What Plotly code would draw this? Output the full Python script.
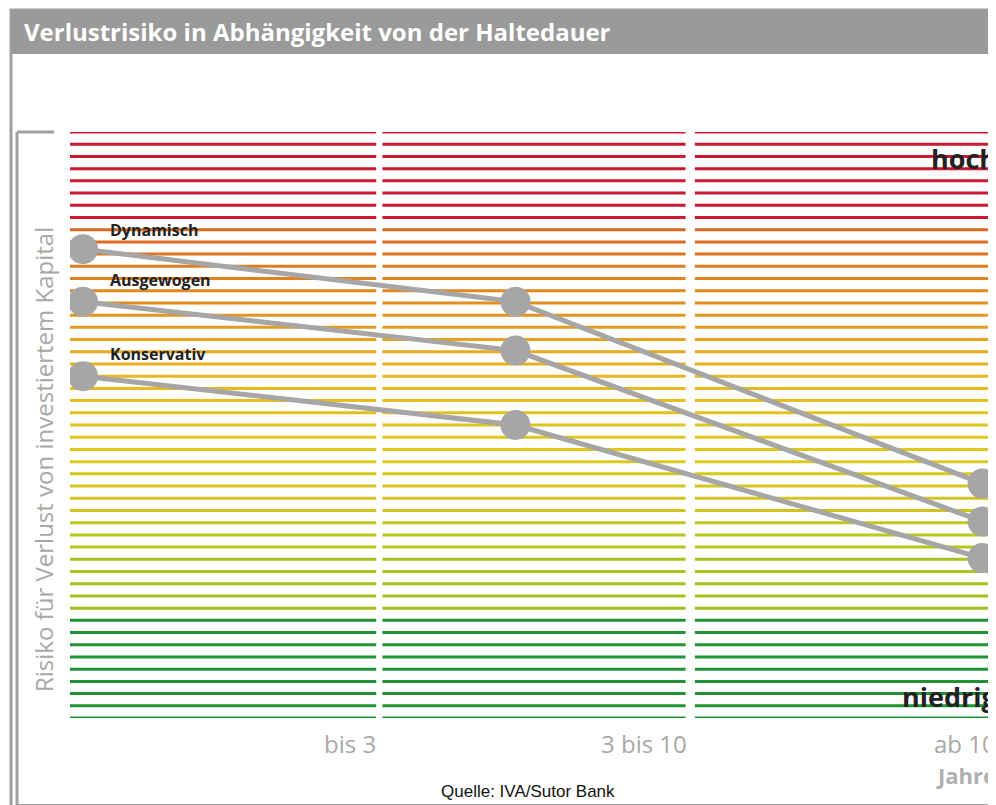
import plotly.graph_objects as go

# data
categories = ["bis 3", "3 bis 10", "ab 10"]
x_pos = [0.042, 1.44, 2.95]
series = {
    "Dynamisch": [38.4, 34.1, 19.2],
    "Ausgewogen": [34.1, 30.1, 16.1],
    "Konservativ": [28.0, 24.0, 13.1],
}
band_colors = (["#1f9435"] * 9 +
               ["#a2c01e", "#a6c21e", "#a8c31e", "#abc41e", "#aec41e", "#b4c51e", "#bcc61e", "#c4c61e", "#cdc41e"] +
               ["#d2c61e", "#d6c71e", "#d9c81e", "#dcc81e", "#dec81e", "#e0c71e", "#e2c41e", "#e4c21e",
                "#e6bf1e", "#e7bb1e", "#e8b61e", "#e8b01e", "#e8a91e", "#e8a21e", "#e79c1e"] +
               ["#e5941e", "#e48e1e", "#e3881e", "#e2821e", "#e07c1e", "#de751e", "#dc6e1e", "#da681e"] +
               ["#cc1830"] * 8)

W, H = 996, 805
ML, MR, MT, MB = 62, 6, 124, 95
ph = H - MT - MB

def py(px):
    return (H - MB - px) / ph

def pxx(px):
    return (px - ML) / (W - ML - MR)

fig = go.Figure()
segs = [(0, 0.99), (1.01, 1.99), (2.02, 3.0)]
for i, c in enumerate(band_colors):
    xs, ys = [], []
    for a, b in segs:
        xs += [a, b, None]
        ys += [i, i, None]
    fig.add_trace(go.Scatter(x=xs, y=ys, mode="lines", line=dict(color=c, width=3),
                             hoverinfo="skip", showlegend=False))

for name, vals in series.items():
    fig.add_trace(go.Scatter(x=x_pos, y=vals, mode="lines+markers", name=name,
                             line=dict(color="#a6a6a6", width=5),
                             marker=dict(color="#a6a6a6", size=30), showlegend=False))

ann = []
lab_px = {"Dynamisch": 222, "Ausgewogen": 272, "Konservativ": 346}
for name, p in lab_px.items():
    ann.append(dict(x=pxx(100), y=py(p), xref="paper", yref="paper", text="<b>" + name + "</b>",
                    showarrow=False, xanchor="left", yanchor="middle",
                    font=dict(family="Open Sans", size=16, color="#222")))
ann.append(dict(x=pxx(991), y=py(150), xref="paper", yref="paper", text="<b>hoch</b>", showarrow=False,
                xanchor="right", yanchor="middle", font=dict(family="Open Sans", size=27, color="#222")))
ann.append(dict(x=pxx(991), y=py(688), xref="paper", yref="paper", text="<b>niedrig</b>", showarrow=False,
                xanchor="right", yanchor="middle", font=dict(family="Open Sans", size=27, color="#222")))
for cat, p in zip(categories, [370, 681, 990]):
    ann.append(dict(x=pxx(p), y=py(735), xref="paper", yref="paper", text=cat, showarrow=False,
                    xanchor="right", yanchor="middle", font=dict(family="Open Sans", size=24, color="#a8a8a8")))
ann.append(dict(x=pxx(990), y=py(767), xref="paper", yref="paper", text="<b>Jahre</b>", showarrow=False,
                xanchor="right", yanchor="middle", font=dict(family="Open Sans", size=22, color="#b0b0b0")))
ann.append(dict(x=pxx(35), y=py(452), xref="paper", yref="paper", text="Risiko für Verlust von investiertem Kapital",
                showarrow=False, textangle=-90, xanchor="center", yanchor="middle",
                font=dict(family="Open Sans", size=24, color="#a8a8a8")))
ann.append(dict(x=pxx(520), y=py(783), xref="paper", yref="paper", text="Quelle: IVA/Sutor Bank",
                showarrow=False, xanchor="center", yanchor="middle",
                font=dict(family="Liberation Sans", size=17, color="#111")))
ann.append(dict(x=pxx(14), y=py(24), xref="paper", yref="paper", text="<b>Verlustrisiko in Abhängigkeit von der Haltedauer</b>",
                showarrow=False, xanchor="left", yanchor="middle",
                font=dict(family="Open Sans", size=24, color="white")))

shapes = [
    dict(type="rect", xref="paper", yref="paper", x0=pxx(3), x1=pxx(994), y0=py(803), y1=py(2),
         line=dict(color="#a0a0a0", width=3), fillcolor="rgba(0,0,0,0)", layer="below"),
    dict(type="rect", xref="paper", yref="paper", x0=pxx(3), x1=pxx(994), y0=py(46), y1=py(2),
         line=dict(width=0), fillcolor="#9a9a9a", layer="below"),
    dict(type="line", xref="paper", yref="paper", x0=pxx(9), x1=pxx(9), y0=py(797), y1=py(124),
         line=dict(color="#a0a0a0", width=3)),
    dict(type="line", xref="paper", yref="paper", x0=pxx(9), x1=pxx(46), y0=py(124), y1=py(124),
         line=dict(color="#a0a0a0", width=3)),
    dict(type="line", xref="paper", yref="paper", x0=pxx(9), x1=pxx(990), y0=py(797), y1=py(797),
         line=dict(color="#a0a0a0", width=2)),
]

fig.update_layout(
    width=W, height=H, margin=dict(l=ML, r=MR, t=MT, b=MB),
    paper_bgcolor="white", plot_bgcolor="white",
    xaxis=dict(range=[0, 3], visible=False, fixedrange=True),
    yaxis=dict(range=[0, 48], visible=False, fixedrange=True),
    annotations=ann, shapes=shapes, showlegend=False,
)
fig.write_html("out.html")
